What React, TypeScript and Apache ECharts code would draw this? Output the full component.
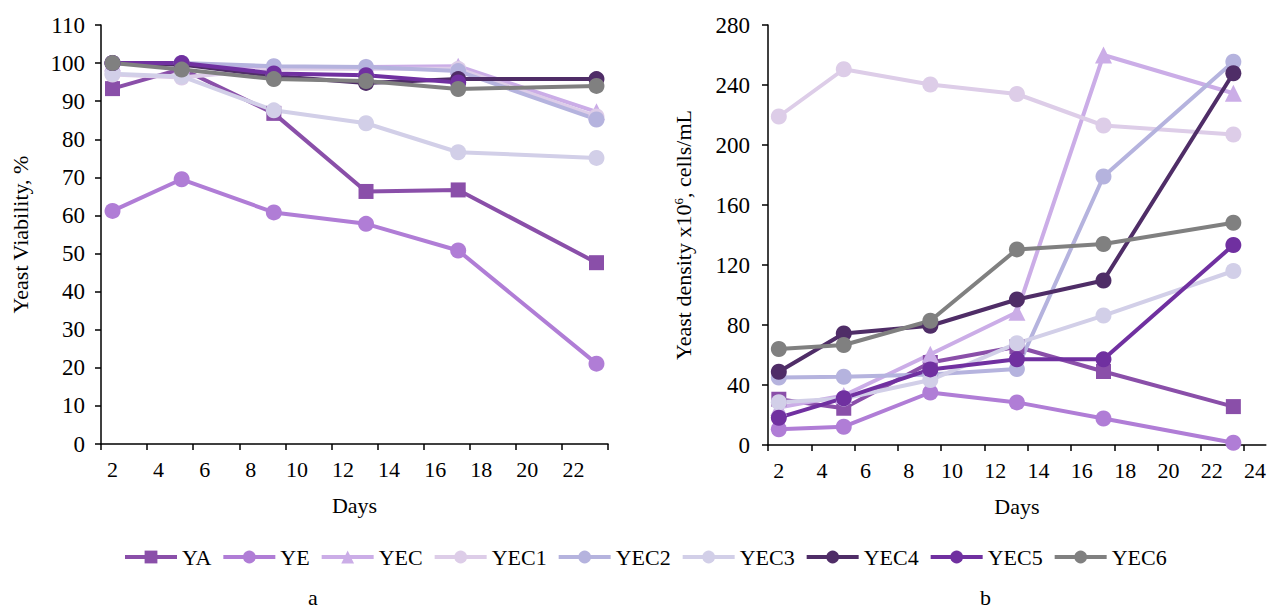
import React, { useEffect, useRef } from "react";
import * as echarts from "echarts";

const days = [2, 5, 9, 13, 17, 23];
const seriesNames = ["YA", "YE", "YEC", "YEC1", "YEC2", "YEC3", "YEC4", "YEC5", "YEC6"];
const seriesColors = ["#8A4FA9", "#B07DD6", "#CBADE7", "#DDCDE8", "#B5B3DE", "#D2CFE8", "#4F2D67", "#7030A0", "#808080"];
const seriesSymbols = ["rect", "circle", "triangle", "circle", "circle", "circle", "circle", "circle", "circle"];

// Chart a: yeast viability, %
const viaYA = [93.3, 98.5, 86.8, 66.3, 66.7, 47.6];
const viaYE = [61.2, 69.5, 60.8, 57.8, 50.8, 21.1];
const viaYEC = [100, 99.5, 99, 99, 99.2, 87.2];
const viaYEC1 = [97, 96.2, 98.5, 98.5, 98.5, 86];
const viaYEC2 = [100, 100, 99.2, 99, 97.9, 85.2];
const viaYEC3 = [97.2, 96.5, 87.6, 84.2, 76.6, 75.1];
const viaYEC4 = [100, 99.6, 96.6, 94.8, 95.8, 95.8];
const viaYEC5 = [100, 100, 97.3, 96.8, 94.9, null];
const viaYEC6 = [100, 98.3, 95.8, 95.3, 93.2, 94.0];

// Chart b: yeast density x10^6 cells/mL
const denYA = [30.5, 24.5, 55, 65.5, 49, 25.6];
const denYE = [10.5, 12.2, 35, 28.4, 17.7, 1.5];
const denYEC = [25, 33, 60.5, 88.5, 260, 234.5];
const denYEC1 = [219, 250.5, 240.3, 234, 213, 207];
const denYEC2 = [45, 45.5, 47, 50.7, 179, 255.5];
const denYEC3 = [28.5, 31, 43.3, 67.8, 86.3, 116];
const denYEC4 = [48.8, 74.3, 79.5, 97, 109.7, 247.8];
const denYEC5 = [18.2, 31.2, 50.4, 57.1, 57.1, 133.3];
const denYEC6 = [64, 66.7, 82.8, 130.4, 134, 148.2];

const viability = [viaYA, viaYE, viaYEC, viaYEC1, viaYEC2, viaYEC3, viaYEC4, viaYEC5, viaYEC6];
const density = [denYA, denYE, denYEC, denYEC1, denYEC2, denYEC3, denYEC4, denYEC5, denYEC6];

const xTicks = [1.5, 3.5, 5.5, 7.5, 9.5, 11.5, 13.5, 15.5, 17.5, 19.5, 21.5, 23.5];
const xLabelsA = [2, 4, 6, 8, 10, 12, 14, 16, 18, 20, 22];
const xLabelsB = [2, 4, 6, 8, 10, 12, 14, 16, 18, 20, 22, 24];

const FONT = "'Liberation Serif', 'Times New Roman', serif";
const FS = 22;
const FSY = 23;

export default function App() {
  const ref = useRef<HTMLDivElement>(null);

  useEffect(() => {
    if (!ref.current) return;
    const chart = echarts.init(ref.current, undefined, { renderer: "svg" });

    const axisLine = { show: true, lineStyle: { color: "#000", width: 1.5 } };
    const axisTick = { show: true, inside: false, length: 6, lineStyle: { color: "#000", width: 1.5 } };
    const labelStyle = { color: "#000", fontSize: FS, fontFamily: FONT };

    const makeX = (gridIndex: number, max: number, labels: number[]) => ({
      type: "value",
      gridIndex,
      min: 1.5,
      max,
      name: "Days",
      nameLocation: "middle",
      nameGap: 50,
      nameTextStyle: { ...labelStyle },
      axisLine,
      axisTick: { ...axisTick, customValues: xTicks },
      axisLabel: { ...labelStyle, margin: 14, customValues: labels, formatter: (v: number) => String(Math.round(v)) },
      splitLine: { show: false },
    });

    const series: any[] = [];
    seriesNames.forEach((name, i) => {
      const common = {
        name,
        type: "line",
        symbol: seriesSymbols[i],
        symbolSize: seriesSymbols[i] === "triangle" ? 17 : seriesSymbols[i] === "rect" ? 15 : 16,
        lineStyle: { width: 4, color: seriesColors[i] },
        itemStyle: { color: seriesColors[i] },
        color: seriesColors[i],
        showSymbol: true,
      };
      series.push({
        ...common,
        xAxisIndex: 0,
        yAxisIndex: 0,
        data: days.map((d, k) => [d, viability[i][k]]),
      });
      series.push({
        ...common,
        xAxisIndex: 1,
        yAxisIndex: 1,
        data: days.map((d, k) => [d, density[i][k]]),
      });
    });

    const option: any = {
      animation: false,
      grid: [
        { left: 101, top: 25, width: 507, height: 419, containLabel: false },
        { left: 768, top: 25, width: 499, height: 420, containLabel: false },
      ],
      xAxis: [makeX(0, 23.5, xLabelsA), makeX(1, 24.5, xLabelsB)],
      yAxis: [
        {
          type: "value",
          gridIndex: 0,
          min: 0,
          max: 110,
          interval: 10,
          name: "Yeast Viability, %",
          nameLocation: "middle",
          nameGap: 70,
          nameTextStyle: { ...labelStyle },
          axisLine,
          axisTick,
          axisLabel: { ...labelStyle, fontSize: FSY, margin: 16 },
          splitLine: { show: false },
        },
        {
          type: "value",
          gridIndex: 1,
          min: 0,
          max: 280,
          interval: 40,
          name: "Yeast density x10{sup|6}, cells/mL",
          nameLocation: "middle",
          nameGap: 74,
          nameTextStyle: {
            ...labelStyle,
            rich: { sup: { fontSize: 13, fontFamily: FONT, color: "#000", verticalAlign: "top" } },
          },
          axisLine,
          axisTick,
          axisLabel: { ...labelStyle, fontSize: FSY, margin: 18 },
          splitLine: { show: false },
        },
      ],
      legend: {
        data: seriesNames,
        left: 118,
        top: 541,
        itemWidth: 52,
        itemHeight: 16,
        itemGap: 10,
        lineStyle: { width: 4 },
        textStyle: { ...labelStyle, padding: [0, 0, 0, 0] },
      },
      graphic: [
        { type: "text", left: 308, top: 586, style: { text: "a", font: `${FS}px ${FONT}`, fill: "#000" } },
        { type: "text", left: 980, top: 586, style: { text: "b", font: `${FS}px ${FONT}`, fill: "#000" } },
      ],
      series,
    };

    chart.setOption(option);
    return () => chart.dispose();
  }, []);

  return (
    <div
      ref={ref}
      style={{ position: "fixed", left: 0, top: 0, width: 1269, height: 608, background: "#fff" }}
    />
  );
}
